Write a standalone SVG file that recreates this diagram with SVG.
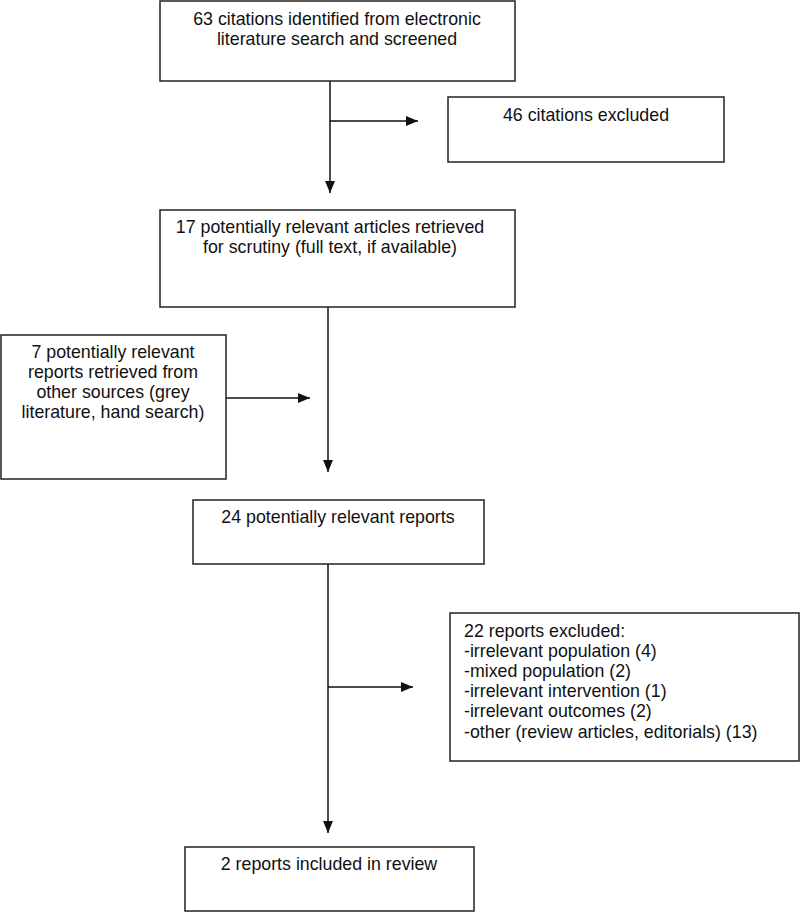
<svg xmlns="http://www.w3.org/2000/svg" width="800" height="912" viewBox="0 0 800 912">
<defs>
<style>
.box{fill:#fff;stroke:#222;stroke-width:1.5}
.t{font-family:"Liberation Sans",Arial,sans-serif;font-size:17.8px;fill:#111}
.c{text-anchor:middle}
.ln{stroke:#111;stroke-width:1.5;fill:none}
</style>
<marker id="ah" markerWidth="12" markerHeight="10" refX="12" refY="5" orient="auto" markerUnits="userSpaceOnUse">
<path d="M0,0 L12,5 L0,10 Z" fill="#111"/>
</marker>
</defs>
<rect width="800" height="912" fill="#fff"/>
<g id="connectors">
<line class="ln" x1="330" y1="81" x2="330" y2="193" marker-end="url(#ah)"/>
<line class="ln" x1="330" y1="121" x2="418" y2="121" marker-end="url(#ah)"/>
<line class="ln" x1="328" y1="307" x2="328" y2="472" marker-end="url(#ah)"/>
<line class="ln" x1="226" y1="398" x2="310" y2="398" marker-end="url(#ah)"/>
<line class="ln" x1="328" y1="564" x2="328" y2="833" marker-end="url(#ah)"/>
<line class="ln" x1="328" y1="687" x2="413" y2="687" marker-end="url(#ah)"/>
</g>
<g id="n1">
<rect class="box" x="160" y="1" width="355" height="80"/>
<text class="t c" x="337" y="25">63 citations identified from electronic</text>
<text class="t c" x="337" y="45">literature search and screened</text>
</g>
<g id="n2">
<rect class="box" x="448" y="97" width="276" height="65"/>
<text class="t c" x="586" y="121">46 citations excluded</text>
</g>
<g id="n3">
<rect class="box" x="160" y="210" width="355" height="97"/>
<text class="t c" x="330" y="233">17 potentially relevant articles retrieved</text>
<text class="t c" x="330" y="253">for scrutiny (full text, if available)</text>
</g>
<g id="n4">
<rect class="box" x="1" y="335" width="225" height="144"/>
<text class="t c" x="113" y="358">7 potentially relevant</text>
<text class="t c" x="113" y="378">reports retrieved from</text>
<text class="t c" x="113" y="398">other sources (grey</text>
<text class="t c" x="113" y="418">literature, hand search)</text>
</g>
<g id="n5">
<rect class="box" x="193" y="500" width="291" height="64"/>
<text class="t c" x="338" y="523">24 potentially relevant reports</text>
</g>
<g id="n6">
<rect class="box" x="450" y="613" width="349" height="148"/>
<text class="t" x="464" y="637">22 reports excluded:</text>
<text class="t" x="464" y="657">-irrelevant population (4)</text>
<text class="t" x="464" y="677">-mixed population (2)</text>
<text class="t" x="464" y="697">-irrelevant intervention (1)</text>
<text class="t" x="464" y="717">-irrelevant outcomes (2)</text>
<text class="t" x="464" y="738">-other (review articles, editorials) (13)</text>
</g>
<g id="n7">
<rect class="box" x="185" y="847" width="289" height="64"/>
<text class="t c" x="329" y="870">2 reports included in review</text>
</g>
</svg>
